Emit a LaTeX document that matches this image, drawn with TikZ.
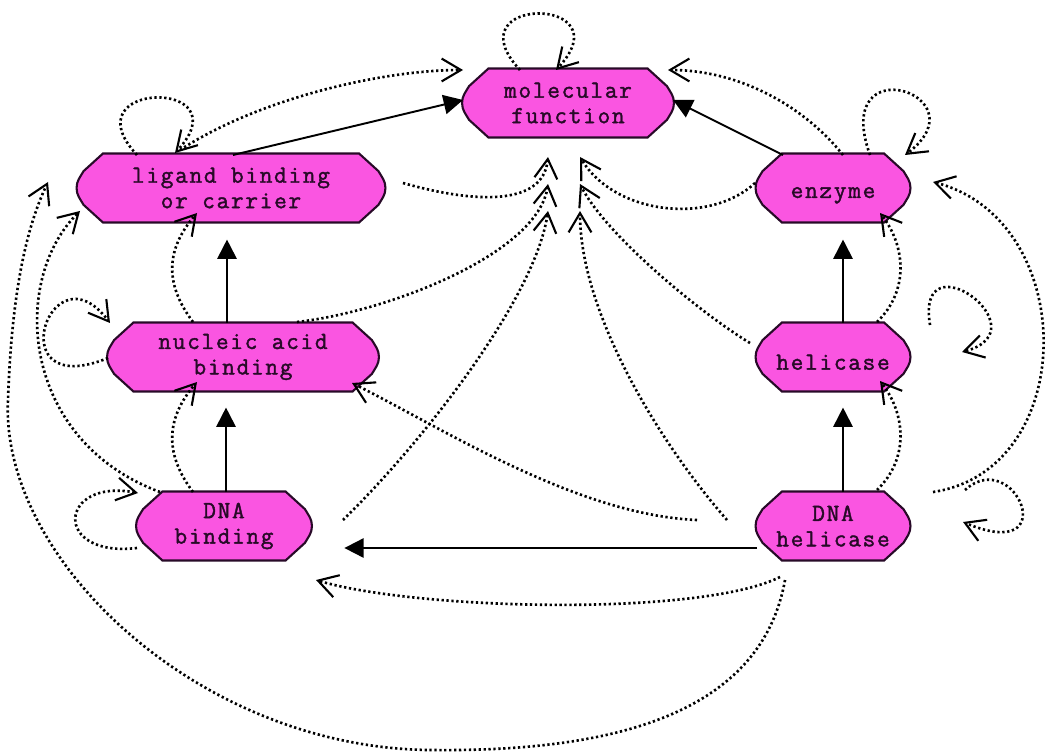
\documentclass[tikz,border=0pt]{standalone}
\usepackage{fontspec}
\newfontfamily\gofont[LetterSpace=7,FakeBold=1.6]{Latin Modern Mono}
\usetikzlibrary{arrows.meta,calc,backgrounds}
\definecolor{gopink}{RGB}{250,85,225}
\definecolor{goline}{RGB}{40,10,40}
\begin{document}
\begin{tikzpicture}[x=0.02cm,y=-0.02cm,line width=1.1pt,
    gonode/.style={inner sep=0pt,minimum height=1.34cm,align=center,text=goline,
      font=\gofont\fontsize{14}{14.5}\selectfont},
    isa/.style={-{Triangle[length=11pt,width=11pt]}},
    closure/.style={-{Straight Barb[length=11pt,width=13pt,line width=1.2pt]},
      dash pattern=on 1.3pt off 1.5pt,line width=1.5pt}]
  \useasboundingbox (0,0) rectangle (1053,756);
  % terms
  \node[gonode,minimum width=4.2cm]  (mf)   at (568,103) {molecular\\function};
  \node[gonode,minimum width=6.14cm] (lig)  at (231,188) {ligand binding\\or carrier};
  \node[gonode,minimum width=3.06cm] (enz)  at (833,188) {\mbox{}\\enzyme};
  \node[gonode,minimum width=5.4cm]  (nab)  at (243,357) {nucleic acid\\binding};
  \node[gonode,minimum width=3.06cm] (hel)  at (833,357) {\mbox{}\\helicase};
  \node[gonode,minimum width=3.48cm] (dnab) at (224,526) {DNA\\binding};
  \node[gonode,minimum width=3.06cm] (dnah) at (833,526) {DNA\\helicase};
  \begin{scope}[on background layer]
    \foreach \nd in {mf,lig,enz,nab,hel,dnab,dnah}
      \draw[fill=gopink,draw=goline,line width=1.2pt]
        let \p1=(\nd.north west), \p2=(\nd.south east) in
        (\x1+15pt,\y1) -- (\x2-15pt,\y1) -- (\x2-4pt,\y1-10pt) to[out=-60,in=90] (\nd.east)
        to[out=-90,in=60] (\x2-4pt,\y2+10pt) -- (\x2-15pt,\y2) -- (\x1+15pt,\y2)
        -- (\x1+4pt,\y2+10pt) to[out=120,in=-90] (\nd.west) to[out=90,in=-120] (\x1+4pt,\y1-10pt) -- cycle;
  \end{scope}
  % is-a links
  \draw[isa] ($(lig)+(2,-33)$) -- ($(mf)+(-105,-3)$);
  \draw[isa] ($(enz)+(-50,-33)$) -- ($(mf)+(105,-3)$);
  \draw[isa,shorten >=10pt] ($(nab)+(-16,-34)$) -- ($(lig)+(-4,34)$);
  \draw[isa,shorten >=10pt] ($(dnab)+(2,-34)$) -- ($(nab)+(-17,33)$);
  \draw[isa,shorten >=10pt] ($(hel)+(10,-34)$) -- ($(enz)+(10,34)$);
  \draw[isa,shorten >=10pt] ($(dnah)+(10,-34)$) -- ($(hel)+(10,33)$);
  \draw[isa,shorten >=19pt] ($(dnah)+(-76,22)$) -- ($(dnab)+(87,22)$);
  % closure: loops
  \draw[closure] ($(mf)+(-48,-33)$) .. controls +(-70,-75) and +(70,-75) .. ($(mf)+(-12,-33)$);
  \draw[closure] ($(lig)+(-94,-33)$) .. controls +(-70,-75) and +(70,-75) .. ($(lig)+(-56,-35)$);
  \draw[closure] ($(enz)+(37,-33)$) .. controls +(-40,-110) and +(80,-60) .. ($(enz)+(72,-33)$);
  \draw[closure] ($(nab)+(-135,1)$) .. controls +(-110,45) and +(-60,-80) .. ($(nab)+(-133,-34)$);
  \draw[closure] ($(hel)+(97,-32)$) .. controls +(-15,-90) and +(83,-22) .. ($(hel)+(129,-5)$);
  \draw[closure] ($(dnab)+(-87,22)$) .. controls +(-85,10) and +(-80,-15) .. ($(dnab)+(-86,-33)$);
  \draw[closure] ($(dnah)+(132,-36)$) .. controls +(50,-45) and +(102,43) .. ($(dnah)+(130,-4)$);
  % closure: to molecular function
  \draw[closure] ($(lig)+(-51,-38)$) .. controls +(80,-52) and +(-80,0) .. ($(mf)+(-105,-33)$);
  \draw[closure] ($(enz)+(10,-33)$) .. controls +(-40,-50) and +(70,0) .. ($(mf)+(100,-33)$);
  \draw[closure] ($(lig)+(172,-5)$) .. controls +(70,20) and +(-5,50) .. ($(mf)+(-20,54)$);
  \draw[closure] ($(nab)+(54,-35)$) .. controls +(90,-10) and +(-10,70) .. ($(mf)+(-20,81)$);
  \draw[closure] ($(dnab)+(119,-6)$) .. controls +(77,-75) and +(-13,89) .. ($(mf)+(-20,108)$);
  \draw[closure] ($(enz)+(-78,-5)$) .. controls +(-45,42) and +(35,58) .. ($(mf)+(12,54)$);
  \draw[closure] ($(hel)+(-83,-14)$) .. controls +(-50,-30) and +(25,50) .. ($(mf)+(12,81)$);
  \draw[closure] ($(dnah)+(-106,-6)$) .. controls +(-70,-80) and +(0,100) .. ($(mf)+(12,108)$);
  % closure: the rest
  \draw[closure] ($(dnah)+(-136,-6)$) .. controls +(-120,-5) and +(90,45) .. ($(nab)+(109,26)$);
  \draw[closure] ($(nab)+(-50,-35)$) .. controls +(-30,-40) and +(-30,35) .. ($(lig)+(-34,25)$);
  \draw[closure] ($(dnab)+(-31,-34)$) .. controls +(-30,-40) and +(-30,35) .. ($(nab)+(-46,25)$);
  \draw[closure] ($(hel)+(44,-35)$) .. controls +(33,-32) and +(25,32) .. ($(enz)+(47,25)$);
  \draw[closure] ($(dnah)+(44,-36)$) .. controls +(33,-32) and +(25,32) .. ($(hel)+(47,24)$);
  \draw[closure] ($(dnah)+(100,-34)$) .. controls +(147,-22) and +(147,38) .. ($(enz)+(100,-6)$);
  \draw[closure] ($(dnab)+(-64,-34)$) .. controls +(-140,-52) and +(-70,69) .. ($(lig)+(-151,23)$);
  \draw[closure] ($(dnah)+(-53,51)$) .. controls +(-80,40) and +(100,30) .. ($(dnab)+(92,54)$);
  \draw[closure] ($(dnah)+(-48,54)$) .. controls (760,720) and (600,752) .. (430,750)
    .. controls (200,748) and (0,560) .. (8,400) .. controls (12,280) and (30,220) .. ($(lig)+(-183,-6)$);
\end{tikzpicture}
\end{document}
